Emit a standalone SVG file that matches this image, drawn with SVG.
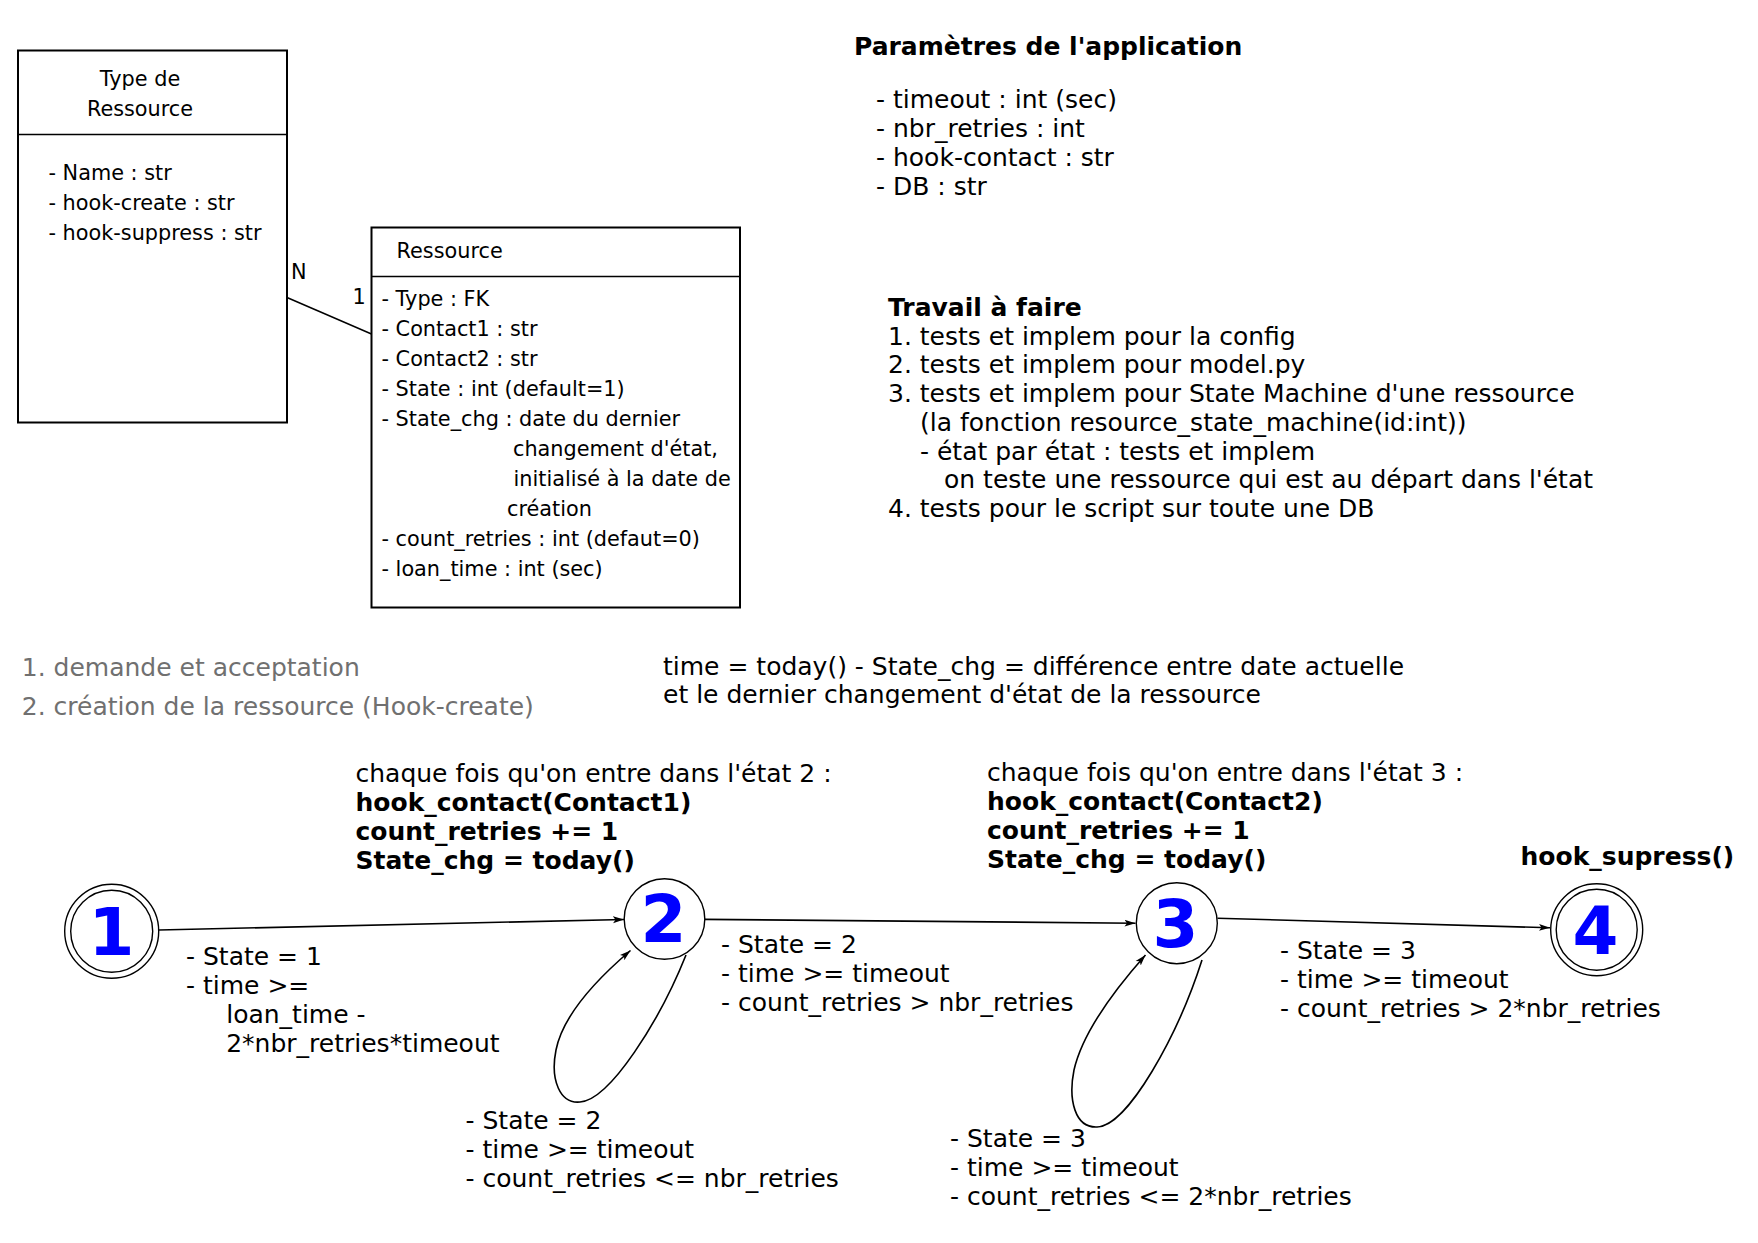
<svg xmlns="http://www.w3.org/2000/svg" width="1758" height="1243" viewBox="0 0 1758 1243">
<style>
text{font-family:"DejaVu Sans","Liberation Sans",sans-serif;fill:#000}
.u{font-size:20.8px}
.t{font-size:25px}
.b{font-weight:bold}
.g{fill:#707070}
.box{fill:#fff;stroke:#000;stroke-width:2}
.st{fill:#fff;stroke:#000;stroke-width:1.4}
.num{font-size:66px;font-weight:bold;fill:#0000ff;text-anchor:middle}
.edge{fill:none;stroke:#000;stroke-width:1.6}
</style>
<defs>
<marker id="ah" markerUnits="userSpaceOnUse" markerWidth="12" markerHeight="8" refX="11" refY="4" orient="auto">
<path d="M0,0.6 L11,4 L0,7.4 L2.5,4 z" fill="#000"/>
</marker>
</defs>
<rect width="1758" height="1243" fill="#fff"/>

<g id="type-ressource">
<rect class="box" x="18" y="50.5" width="269" height="372"/>
<line x1="18" y1="134.5" x2="287" y2="134.5" stroke="#000" stroke-width="1.4"/>
<text class="u" x="140" y="86" text-anchor="middle">Type de</text>
<text class="u" x="140" y="116" text-anchor="middle">Ressource</text>
<text class="u" x="48.5" y="180">- Name : str</text>
<text class="u" x="48.5" y="210">- hook-create : str</text>
<text class="u" x="48.5" y="240">- hook-suppress : str</text>
</g>

<g id="ressource">
<rect class="box" x="371.5" y="227.5" width="368.5" height="380"/>
<line x1="371.5" y1="276.5" x2="740" y2="276.5" stroke="#000" stroke-width="1.4"/>
<text class="u" x="396.5" y="257.5">Ressource</text>
<text class="u" x="381.5" y="305.5">- Type : FK</text>
<text class="u" x="381.5" y="335.5">- Contact1 : str</text>
<text class="u" x="381.5" y="365.5">- Contact2 : str</text>
<text class="u" x="381.5" y="395.5">- State : int (default=1)</text>
<text class="u" x="381.5" y="425.5">- State_chg : date du dernier</text>
<text class="u" x="513" y="455.5">changement d'état,</text>
<text class="u" x="513.5" y="485.5">initialisé à la date de</text>
<text class="u" x="507" y="515.5">création</text>
<text class="u" x="381.5" y="545.5">- count_retries : int (defaut=0)</text>
<text class="u" x="381.5" y="575.5">- loan_time : int (sec)</text>
</g>

<g id="params">
<text class="t b" x="854" y="54.5">Paramètres de l'application</text>
<text class="t" x="876" y="107.6">- timeout : int (sec)</text>
<text class="t" x="876" y="136.7">- nbr_retries : int</text>
<text class="t" x="876" y="165.8">- hook-contact : str</text>
<text class="t" x="876" y="194.9">- DB : str</text>
</g>

<g id="travail">
<text class="t b" x="888" y="316">Travail à faire</text>
<text class="t" x="888" y="344.7">1. tests et implem pour la config</text>
<text class="t" x="888" y="373.4">2. tests et implem pour model.py</text>
<text class="t" x="888" y="402.1">3. tests et implem pour State Machine d'une ressource</text>
<text class="t" x="920" y="430.8">(la fonction resource_state_machine(id:int))</text>
<text class="t" x="920" y="459.5">- état par état : tests et implem</text>
<text class="t" x="944" y="488.2">on teste une ressource qui est au départ dans l'état</text>
<text class="t" x="888" y="516.9">4. tests pour le script sur toute une DB</text>
</g>

<g id="steps">
<text class="t g" x="21.8" y="675.5">1. demande et acceptation</text>
<text class="t g" x="21.8" y="715">2. création de la ressource (Hook-create)</text>
</g>

<g id="time-note">
<text class="t" x="663" y="674.5">time = today() - State_chg = différence entre date actuelle</text>
<text class="t" x="663" y="703">et le dernier changement d'état de la ressource</text>
</g>

<g id="connectors">
<line x1="287" y1="297.5" x2="371.5" y2="334" stroke="#000" stroke-width="1.5"/>
<text class="u" x="291" y="279">N</text>
<text class="u" x="352.5" y="304">1</text>
<path class="edge" d="M159,930 L624,919.5" marker-end="url(#ah)"/>
<path class="edge" d="M705,919.4 L1135.5,923.2" marker-end="url(#ah)"/>
<path class="edge" d="M1217.5,918.2 L1550,927.8" marker-end="url(#ah)"/>
<path class="edge" d="M686,955 C660,1020 610,1100 580,1102 C560,1104 550,1080 556,1050 C562,1020 590,985 630.5,950.5" marker-end="url(#ah)"/>
<path class="edge" d="M1202,960 C1178,1035 1128,1126 1097,1127 C1075,1128 1068,1100 1074,1070 C1082,1035 1110,995 1145.5,955" marker-end="url(#ah)"/>
<text class="t" x="186" y="965">- State = 1</text>
<text class="t" x="186" y="994">- time &gt;=</text>
<text class="t" x="226.2" y="1023">loan_time -</text>
<text class="t" x="226.2" y="1052">2*nbr_retries*timeout</text>
<text class="t" x="721" y="953">- State = 2</text>
<text class="t" x="721" y="982">- time &gt;= timeout</text>
<text class="t" x="721" y="1011">- count_retries &gt; nbr_retries</text>
<text class="t" x="465.5" y="1129">- State = 2</text>
<text class="t" x="465.5" y="1158">- time &gt;= timeout</text>
<text class="t" x="465.5" y="1187">- count_retries &lt;= nbr_retries</text>
<text class="t" x="1280" y="959">- State = 3</text>
<text class="t" x="1280" y="988">- time &gt;= timeout</text>
<text class="t" x="1280" y="1017">- count_retries &gt; 2*nbr_retries</text>
<text class="t" x="950" y="1147">- State = 3</text>
<text class="t" x="950" y="1176">- time &gt;= timeout</text>
<text class="t" x="950" y="1205">- count_retries &lt;= 2*nbr_retries</text>
</g>

<g id="state1">
<circle class="st" cx="111.7" cy="931.2" r="47"/>
<circle class="st" cx="111.7" cy="931.2" r="41"/>
<text class="num" x="111.5" y="955">1</text>
</g>

<g id="state2">
<circle class="st" cx="664.5" cy="919" r="40.3"/>
<text class="num" x="663.5" y="942">2</text>
<text class="t" x="355.5" y="781.8">chaque fois qu'on entre dans l'état 2 :</text>
<text class="t b" x="355.5" y="810.8">hook_contact(Contact1)</text>
<text class="t b" x="355.5" y="839.8">count_retries += 1</text>
<text class="t b" x="355.5" y="868.8">State_chg = today()</text>
</g>

<g id="state3">
<circle class="st" cx="1176.8" cy="923.2" r="40.5"/>
<text class="num" x="1175.5" y="947">3</text>
<text class="t" x="987" y="780.7">chaque fois qu'on entre dans l'état 3 :</text>
<text class="t b" x="987" y="809.7">hook_contact(Contact2)</text>
<text class="t b" x="987" y="838.7">count_retries += 1</text>
<text class="t b" x="987" y="867.7">State_chg = today()</text>
</g>

<g id="state4">
<circle class="st" cx="1596.7" cy="929.7" r="46"/>
<circle class="st" cx="1596.7" cy="929.7" r="40.5"/>
<text class="num" x="1595.5" y="953.7">4</text>
<text class="t b" x="1520.5" y="864.5">hook_supress()</text>
</g>
</svg>
